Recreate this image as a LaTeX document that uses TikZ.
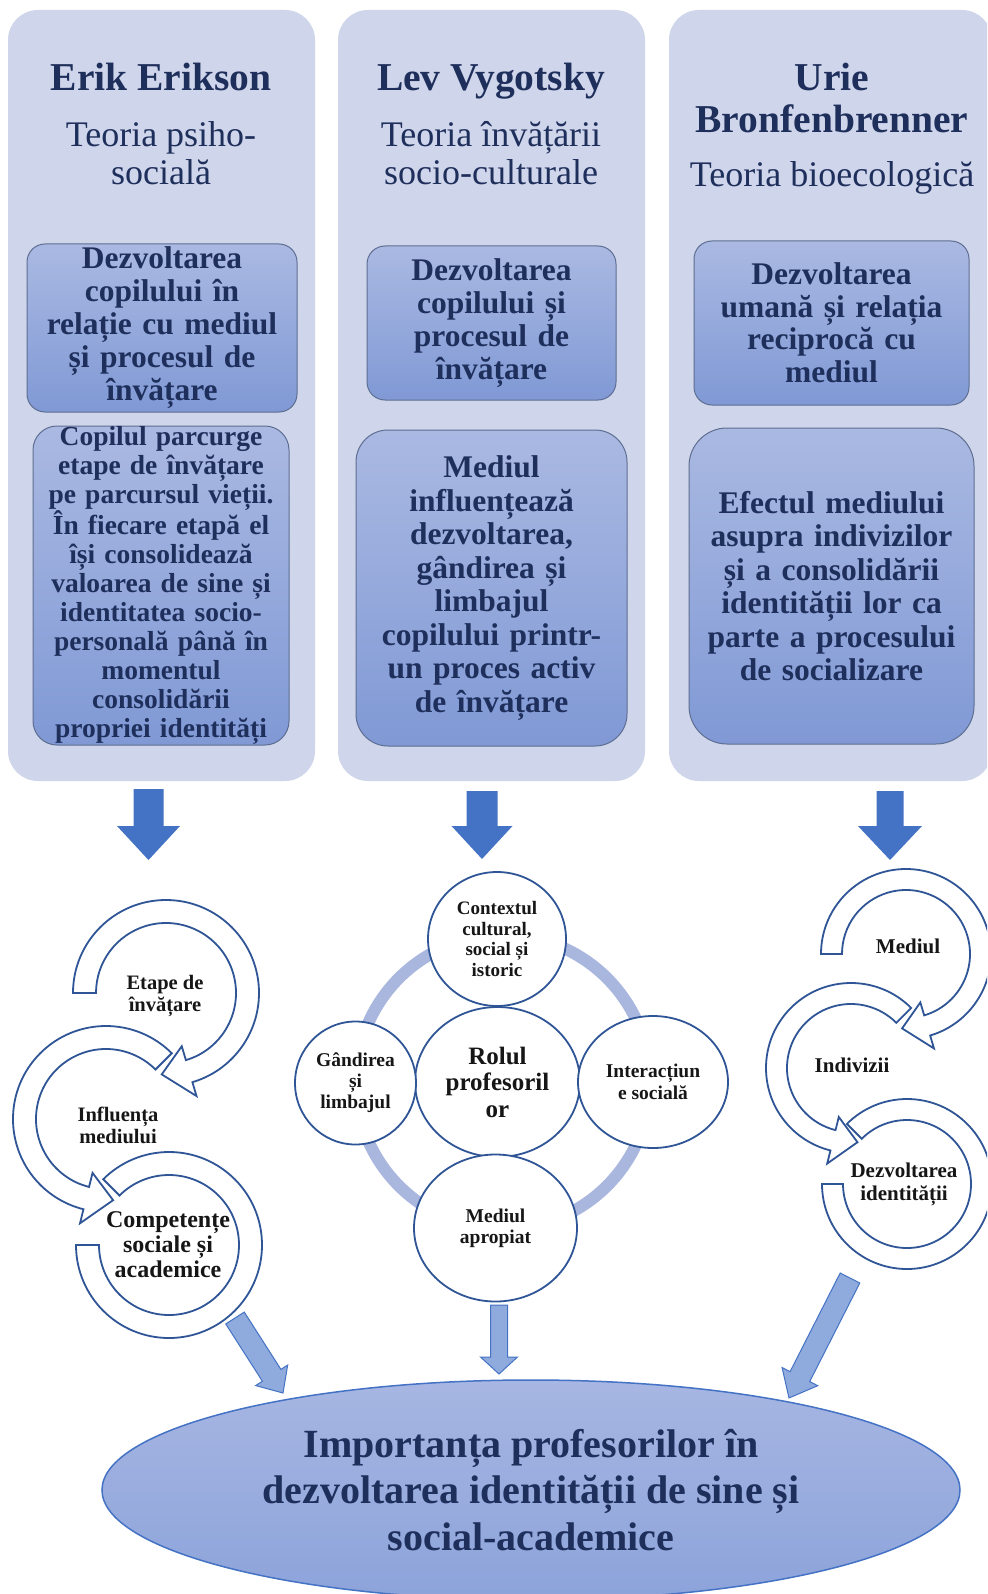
\documentclass[tikz,border=0pt]{standalone}
\usepackage{fontspec}
\setmainfont{Liberation Serif}
\usepackage{tikz}
\usetikzlibrary{calc,shapes.geometric}
\definecolor{Panel}{HTML}{CFD5EA}
\definecolor{BoxTop}{HTML}{AAB9E2}
\definecolor{BoxBottom}{HTML}{8099D5}
\definecolor{BoxLine}{HTML}{5E6E92}
\definecolor{Navy}{HTML}{1F2F5C}
\definecolor{Ink}{HTML}{161616}
\definecolor{ArrowBlue}{HTML}{4472C4}
\definecolor{PaleArrow}{HTML}{8FAADC}
\definecolor{RingBlue}{HTML}{2F5597}
\definecolor{Halo}{HTML}{A9B6DE}
\definecolor{GoalTop}{HTML}{A7B6E2}
\definecolor{GoalBottom}{HTML}{8CA3DA}
\newcommand{\fsz}[2]{\fontsize{#1}{#2}\selectfont}
\newcommand{\fatarrow}[6][]{%
  \coordinate (fabase) at ($(#3)!#6!(#2)$);
  \filldraw[#1] ($(#2)!#4!90:(#3)$) -- ($(fabase)!#4!-90:(#2)$) -- ($(fabase)!#5!-90:(#2)$)
    -- (#3) -- ($(fabase)!#5!90:(#2)$) -- ($(fabase)!#4!90:(#2)$) -- ($(#2)!#4!-90:(#3)$) -- cycle;}
\newcommand{\cyclearrow}[8]{%
  \draw[band,shift={(#1,#2)}] (#5:#3) arc[start angle=#5,end angle=#6,radius=#3]
    -- (#6:{(#3+#4)/2+#8}) -- (#7:{(#3+#4)/2}) -- (#6:{(#3+#4)/2-#8})
    -- (#6:#4) arc[start angle=#6,end angle=#5,radius=#4] -- cycle;}
\newcommand{\cycleband}[6]{%
  \draw[band,shift={(#1,#2)}] (#5:#3) arc[start angle=#5,end angle=#6,radius=#3]
    -- (#6:#4) arc[start angle=#6,end angle=#5,radius=#4] -- cycle;}
\tikzset{
  panel/.style={fill=Panel,rounded corners=30pt,inner sep=0pt},
  title/.style={font=\bfseries\fsz{39.5}{42},text=Navy,align=center,inner sep=0pt},
  subtitle/.style={font=\fsz{36}{37.5},text=Navy,align=center,inner sep=0pt},
  idea/.style={draw=BoxLine,line width=1pt,top color=BoxTop,bottom color=BoxBottom,
               rounded corners=18pt,inner sep=0pt,align=center,text=Navy},
  bigarrow/.style={fill=ArrowBlue,draw=none},
  smallarrow/.style={fill=PaleArrow,draw=ArrowBlue,line width=1pt},
  band/.style={draw=RingBlue,line width=1.8pt,fill=white},
  bandtext/.style={font=\bfseries\fsz{20.5}{22},text=Ink,align=center,inner sep=0pt},
  bubble/.style={ellipse,draw=RingBlue,line width=1.8pt,fill=white,inner sep=0pt,
                 align=center,text=Ink,font=\bfseries\fsz{19.5}{21}},
  goal/.style={ellipse,draw=ArrowBlue,line width=1.5pt,top color=GoalTop,bottom color=GoalBottom,
               inner sep=0pt,align=center,text=Navy,font=\bfseries\fsz{40}{46.5}}
}
\begin{document}
\begin{tikzpicture}[x=1pt,y=-1pt]
  \path[use as bounding box,fill=white] (0,0) rectangle (987,1594);
  \clip (0,0) rectangle (987,1594);

  \node[panel,minimum width=307pt,minimum height=771pt] (erikpanel) at (161.5,395.5) {};
  \node[panel,minimum width=307pt,minimum height=771pt] (levpanel) at (491.5,395.5) {};
  \node[panel,minimum width=323pt,minimum height=771pt] (uriepanel) at (830.5,395.5) {};

  \node[title,anchor=base] (erik) at (161,91) {Erik Erikson};
  \node[subtitle] (psiho) at (161,153) {Teoria psiho-\\socială};
  \node[title,anchor=base] (lev) at (491,91) {Lev Vygotsky};
  \node[subtitle] (socio) at (491,153) {Teoria învățării\\socio-culturale};
  \node[title] (urie) at (832,98) {Urie\\Bronfenbrenner};
  \node[subtitle] (bio) at (832,178) {Teoria bioecologică};

  \node[idea,minimum width=270pt,minimum height=168pt,text width=262pt,font=\bfseries\fsz{31.5}{33}]
    (erikdev) at (162,328) {Dezvoltarea\\copilului în\\relație cu mediul\\și procesul de\\învățare};
  \node[idea,minimum width=256pt,minimum height=319pt,text width=250pt,rounded corners=24pt,font=\bfseries\fsz{27.5}{29}]
    (erikstage) at (161,585.5) {Copilul parcurge\\etape de învățare\\pe parcursul vieții.\\În fiecare etapă el\\își consolidează\\valoarea de sine și\\identitatea socio-\\personală până în\\momentul\\consolidării\\propriei identități};
  \node[idea,minimum width=249pt,minimum height=154pt,text width=241pt,font=\bfseries\fsz{31.5}{33}]
    (levdev) at (491.5,323) {Dezvoltarea\\copilului și\\procesul de\\învățare};
  \node[idea,minimum width=271pt,minimum height=316pt,text width=263pt,rounded corners=32pt,font=\bfseries\fsz{31.5}{33.5}]
    (levenv) at (491.5,588) {Mediul\\influențează\\dezvoltarea,\\gândirea și\\limbajul\\copilului printr-\\un proces activ\\de învățare};
  \node[idea,minimum width=275pt,minimum height=164pt,text width=267pt,font=\bfseries\fsz{31.5}{32.5}]
    (uriedev) at (831.5,323) {Dezvoltarea\\umană și relația\\reciprocă cu\\mediul};
  \node[idea,minimum width=285pt,minimum height=316pt,text width=277pt,rounded corners=38pt,font=\bfseries\fsz{31.5}{33.5}]
    (urieenv) at (831.5,586) {Efectul mediului\\asupra indivizilor\\și a consolidării\\identității lor ca\\parte a procesului\\de socializare};

  \coordinate (erikout) at (148.5,789);
  \coordinate (erikin) at (148.5,860);
  \coordinate (levout) at (482,791);
  \coordinate (levin) at (482,859);
  \coordinate (urieout) at (890,791);
  \coordinate (uriein) at (890,860);
  \fatarrow[bigarrow]{erikout}{erikin}{15pt}{31.5pt}{34pt}
  \fatarrow[bigarrow]{levout}{levin}{15.5pt}{30.5pt}{33pt}
  \fatarrow[bigarrow]{urieout}{uriein}{13.5pt}{32pt}{34pt}

  \cycleband{169}{1245}{93}{70}{180}{-135}
  \cyclearrow{106}{1119}{93}{70}{-45}{-256}{-275}{26}
  \cyclearrow{166}{993}{93}{70}{180}{433.5}{453}{26}
  \node[bandtext] (etape) at (165,996) {Etape de\\învățare};
  \node[bandtext] (influenta) at (118,1125) {Influența\\mediului};
  \node[bandtext,font=\bfseries\fsz{24}{25}] (competente) at (168,1245) {Competențe\\sociale și\\academice};

  \node[draw=Halo,line width=12pt,circle,minimum size=294pt] (halo) at (503,1082) {};
  \node[bubble,minimum width=165pt,minimum height=150pt,font=\bfseries\fsz{25}{26.5}] (rol) at (497.5,1082) {Rolul\\profesoril\\or};
  \node[bubble,minimum width=138pt,minimum height=134pt,font=\bfseries\fsz{19}{20.5}] (context) at (497,939) {Contextul\\cultural,\\social și\\istoric};
  \node[bubble,minimum width=121pt,minimum height=123pt] (gandire) at (355.5,1083) {Gândirea\\și\\limbajul};
  \node[bubble,minimum width=150pt,minimum height=132pt,font=\bfseries\fsz{19.5}{22}] (interact) at (653,1082) {Interacțiun\\e socială};
  \node[bubble,minimum width=163pt,minimum height=147pt] (apropiat) at (495.5,1228) {Mediul\\apropiat};

  \cycleband{907}{1184}{85}{64}{180}{-135}
  \cyclearrow{851}{1068}{85}{64}{-45}{-256}{-275}{24}
  \cyclearrow{906}{954}{85}{64}{180}{433.5}{453}{24}
  \node[bandtext,font=\bfseries\fsz{21}{23}] (mediul) at (908,946) {Mediul};
  \node[bandtext,font=\bfseries\fsz{21}{23}] (indivizi) at (852,1065) {Indivizii};
  \node[bandtext,font=\bfseries\fsz{21}{23}] (identitate) at (904,1184) {Dezvoltarea\\identității};

  \node[goal,minimum width=858pt,minimum height=220pt] (importanta) at (531,1490)
    {Importanța profesorilor în\\dezvoltarea identității de sine și\\social-academice};

  \coordinate (compout) at (235,1318);
  \coordinate (compin) at (283,1393);
  \coordinate (apout) at (499,1305);
  \coordinate (apin) at (499,1374);
  \coordinate (idout) at (850,1278);
  \coordinate (idin) at (789,1398);
  \fatarrow[smallarrow]{compout}{compin}{11pt}{19pt}{21pt}
  \fatarrow[smallarrow]{apout}{apin}{8.5pt}{18.5pt}{17pt}
  \fatarrow[smallarrow]{idout}{idin}{11pt}{20pt}{24pt}
\end{tikzpicture}
\end{document}
